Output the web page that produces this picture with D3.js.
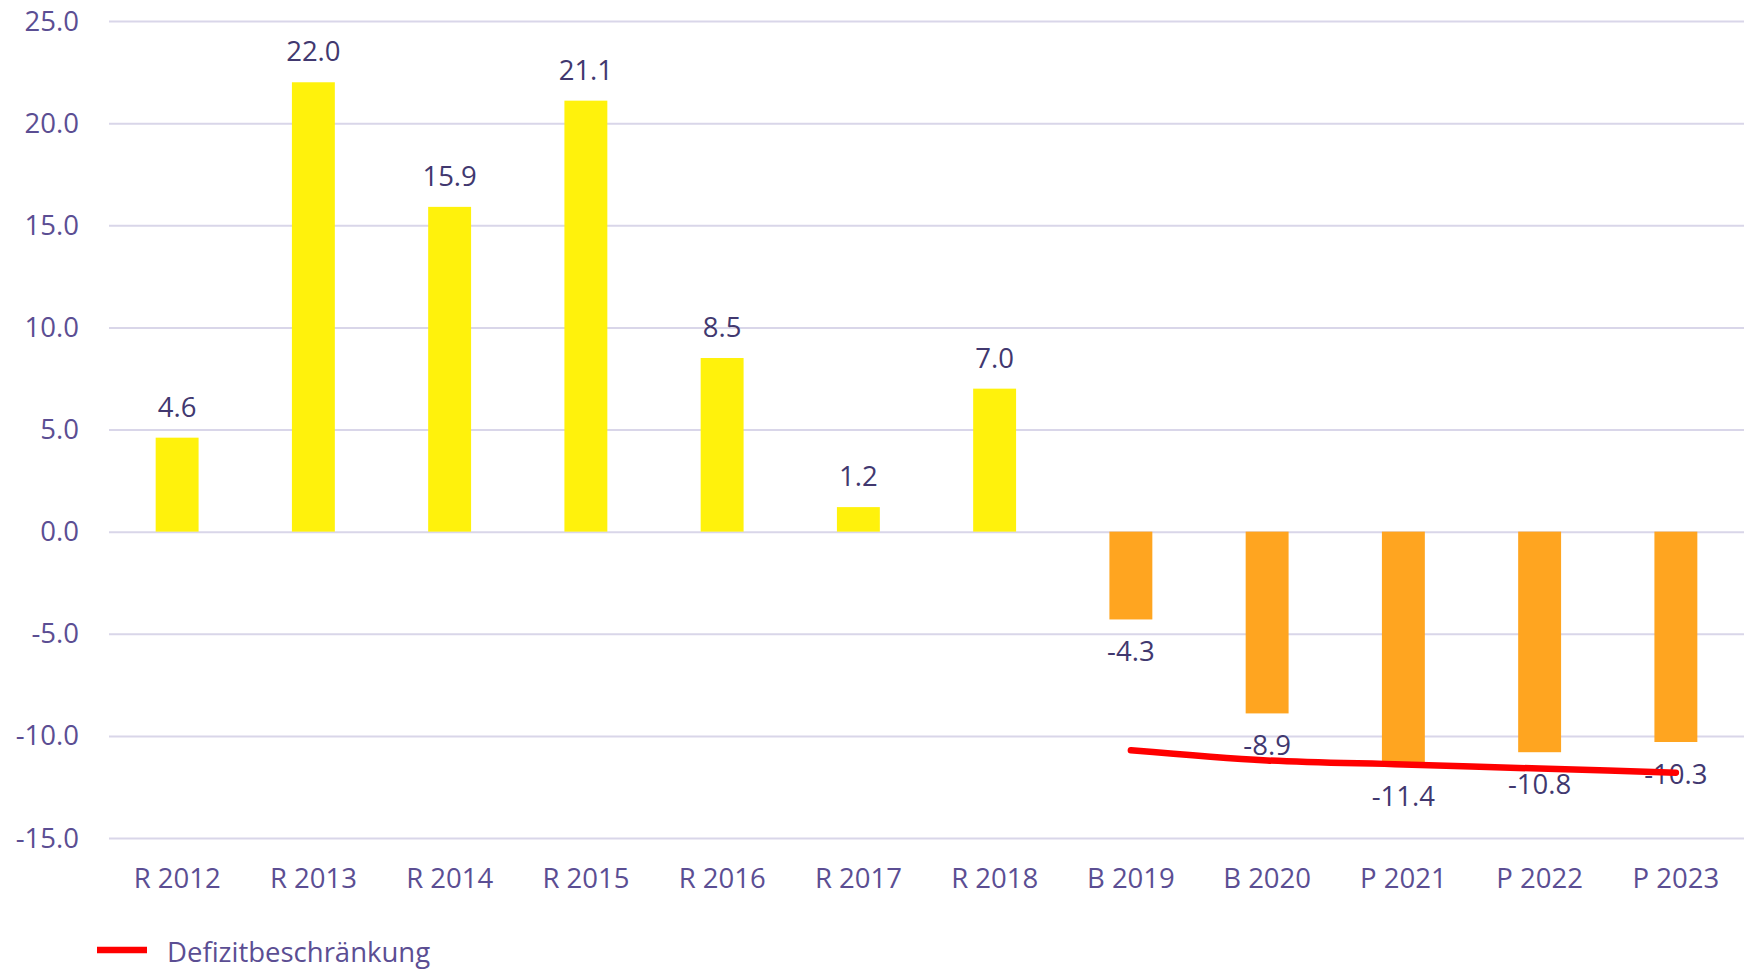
<!DOCTYPE html>
<html>
<head>
<meta charset="utf-8">
<script src="https://cdnjs.cloudflare.com/ajax/libs/d3/7.8.5/d3.min.js"></script>
<style>
  body { margin: 0; background: #fff; }
  svg text { font-family: "Open Sans", sans-serif; }
</style>
</head>
<body>
<div id="chart"></div>
<script>
var categories = ["R 2012", "R 2013", "R 2014", "R 2015", "R 2016", "R 2017", "R 2018",
                  "B 2019", "B 2020", "P 2021", "P 2022", "P 2023"];
var saldo = [4.6, 22.0, 15.9, 21.1, 8.5, 1.2, 7.0, -4.3, -8.9, -11.4, -10.8, -10.3];
var limitCats = ["B 2019", "B 2020", "P 2021", "P 2022", "P 2023"];
var limitValues = [-10.7, -11.2, -11.4, -11.6, -11.8];
var yTicks = [25, 20, 15, 10, 5, 0, -5, -10, -15];
var legendLabel = "Defizitbeschränkung";

var width = 1744, height = 970;
var margin = {top: 21, right: 0, bottom: 132, left: 109};

// plain hyphen for negatives, like the original
var fmt = d3.formatLocale({decimal: ".", thousands: ",", grouping: [3], currency: ["", ""], minus: "-"}).format(".1f");

var svg = d3.select("#chart").append("svg")
    .attr("width", width)
    .attr("height", height);

var x = d3.scaleBand()
    .domain(categories)
    .range([margin.left, width - margin.right])
    .paddingInner(0.685)
    .paddingOuter(0.3425);

var y = d3.scaleLinear()
    .domain([-15, 25])
    .range([height - margin.bottom, margin.top]);

// gridlines + y labels
var yAxis = d3.axisLeft(y)
    .tickValues(yTicks)
    .tickFormat(fmt)
    .tickSize(-(width - margin.left - margin.right))
    .tickPadding(30);

var gy = svg.append("g")
    .attr("transform", "translate(" + margin.left + ",0)")
    .call(yAxis);
gy.select(".domain").remove();
gy.selectAll(".tick line").attr("stroke", "#d9d6e9").attr("stroke-width", 2);
gy.selectAll(".tick text")
    .attr("fill", "#5b4e93")
    .style("font-size", "27.5px")
    .attr("dy", "0.33em");

// bars
svg.append("g")
  .selectAll("rect")
  .data(saldo)
  .enter().append("rect")
    .attr("x", function(d, i) { return x(categories[i]); })
    .attr("width", x.bandwidth())
    .attr("y", function(d) { return y(Math.max(0, d)); })
    .attr("height", function(d) { return Math.abs(y(d) - y(0)); })
    .attr("fill", function(d) { return d >= 0 ? "#fff20c" : "#ffa520"; });

// value labels
svg.append("g")
  .selectAll("text")
  .data(saldo)
  .enter().append("text")
    .attr("x", function(d, i) { return x(categories[i]) + x.bandwidth() / 2; })
    .attr("y", function(d) { return d >= 0 ? y(d) - 21 : y(d) + 42; })
    .attr("text-anchor", "middle")
    .attr("fill", "#41386f")
    .style("font-size", "27.5px")
    .text(function(d) { return fmt(d); });

// x labels
var xAxis = d3.axisBottom(x).tickSize(0).tickPadding(0);
var gx = svg.append("g")
    .attr("transform", "translate(0," + (height - margin.bottom) + ")")
    .call(xAxis);
gx.select(".domain").remove();
gx.selectAll(".tick text")
    .attr("fill", "#5b4e93")
    .style("font-size", "27.5px")
    .attr("dy", null)
    .attr("y", 50);

// deficit limit line
var line = d3.line()
    .x(function(d, i) { return x(limitCats[i]) + x.bandwidth() / 2; })
    .y(function(d) { return y(d); })
    .curve(d3.curveMonotoneX);

svg.append("path")
    .datum(limitValues)
    .attr("d", line)
    .attr("fill", "none")
    .attr("stroke", "#ff0000")
    .attr("stroke-width", 6.5)
    .attr("stroke-linecap", "round");

// legend
var legend = svg.append("g").attr("transform", "translate(97,950)");
legend.append("line")
    .attr("x1", 0).attr("x2", 50)
    .attr("stroke", "#ff0000")
    .attr("stroke-width", 6.5);
legend.append("text")
    .attr("x", 70)
    .attr("y", 12)
    .attr("fill", "#5b4e93")
    .style("font-size", "27.5px")
    .text(legendLabel);
</script>
</body>
</html>
